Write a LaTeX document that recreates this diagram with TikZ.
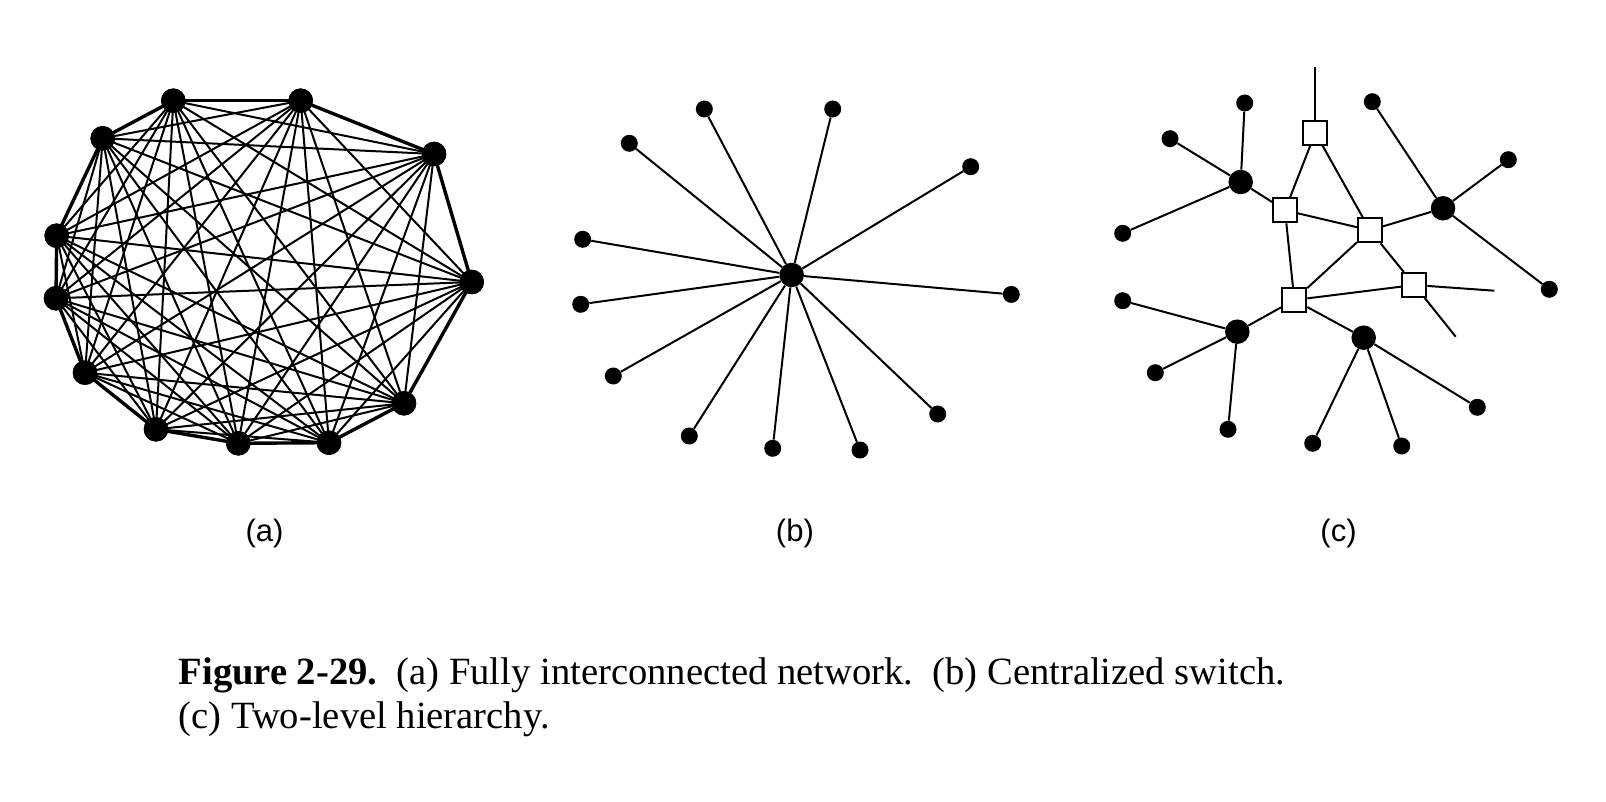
\documentclass[tikz,border=0pt]{standalone}
\usepackage{fontspec}
\setmainfont{Liberation Serif}
\setsansfont{Liberation Sans}
\begin{document}
\begin{tikzpicture}[x=1pt,y=-1pt,
  bigdot/.style={circle,fill=black,inner sep=0pt,minimum size=24.5pt},
  smalldot/.style={circle,fill=black,inner sep=0pt,minimum size=17pt},
  switchbox/.style={rectangle,draw=black,fill=white,line width=2pt,inner sep=0pt,minimum size=24pt},
  wire/.style={line width=2pt},
  rim/.style={line width=3.4pt},
  sublabel/.style={font=\sffamily\fontsize{31}{37}\selectfont,anchor=base,inner sep=0pt},
  captext/.style={font=\rmfamily\fontsize{38.6}{44}\selectfont,anchor=base west,inner sep=0pt}]
\useasboundingbox (0,0) rectangle (1606,802);
% ---------- (a) fully interconnected ----------
\foreach \n/\x/\y in {1/173.3/100.7,2/300.7/100.7,3/434/154,4/471.7/282,5/404/403.3,6/329/442.7,
  7/238.3/443.3,8/156/429.3,9/85/372.7,10/56/298.3,11/56.7/235.7,12/102.7/138.3}
  \node[bigdot] (a\n) at (\x,\y) {};
\begin{scope}[on background layer/.try]
\foreach \i in {1,...,11}{
  \pgfmathtruncatemacro{\s}{\i+1}
  \foreach \j in {\s,...,12}{
    \draw[wire] (a\i.center) -- (a\j.center);
  }
}
\foreach \i/\j in {1/2,2/3,3/4,4/5,5/6,6/7,7/8,8/9,9/10,10/11,11/12,12/1}
  \draw[rim] (a\i.center) -- (a\j.center);
\end{scope}
\foreach \n in {1,...,12} \node[bigdot] at (a\n) {};
% ---------- (b) centralized switch ----------
\node[bigdot] (bc) at (791.7,275) {};
\foreach \n/\x/\y in {1/704.3/109,2/832.7/109,3/629.3/143.3,4/970.7/166.7,5/582.7/239.3,
  6/580.7/304.3,7/1011.3/294.4,8/613.3/376,9/689.3/436,10/772.7/448.3,11/860/450,12/937.7/414}{
  \node[smalldot] (b\n) at (\x,\y) {};
  \draw[wire] (bc) -- (b\n);
}
% ---------- (c) two-level hierarchy ----------
\node[switchbox] (s1) at (1315.3,132.7) {};
\node[switchbox] (s2) at (1285,210.3) {};
\node[switchbox] (s3) at (1370,230.3) {};
\node[switchbox] (s4) at (1294.3,300) {};
\node[switchbox] (s5) at (1414.3,285) {};
\coordinate (t1) at (1315.3,67.3);
\coordinate (t2) at (1494.3,290.7);
\coordinate (t3) at (1455.7,336.7);
\node[bigdot] (p1) at (1240.7,182) {};
\node[bigdot] (p2) at (1443,208.3) {};
\node[bigdot] (p3) at (1237.3,331.7) {};
\node[bigdot] (p4) at (1363.7,337.7) {};
\draw[wire] (s1) -- (t1);
\draw[wire] (s5) -- (t2);
\draw[wire] (s5) -- (t3);
\draw[wire] (s1) -- (s2);
\draw[wire] (s1) -- (s3);
\draw[wire] (s2) -- (s3);
\draw[wire] (s2) -- (s4);
\draw[wire] (s3) -- (s4);
\draw[wire] (s3) -- (s5);
\draw[wire] (s4) -- (s5);
\draw[wire] (p1) -- (s2);
\draw[wire] (p2) -- (s3);
\draw[wire] (p3) -- (s4);
\draw[wire] (p4) -- (s4);
\foreach \p/\n/\x/\y in {p1/1/1244.7/103,p1/2/1170/138.7,p1/3/1122.7/233.3,
  p2/4/1372.3/101.7,p2/5/1508.3/159.7,p2/6/1549.3/289.3,
  p3/7/1122.7/300.7,p3/8/1155.3/372.7,p3/9/1228/429.3,
  p4/10/1312.7/443.3,p4/11/1401.7/446,p4/12/1477.3/407.3}{
  \node[smalldot] (c\n) at (\x,\y) {};
  \draw[wire] (\p) -- (c\n);
}
% ---------- labels ----------
\node[sublabel] (la) at (264.6,541.5) {(a)};
\node[sublabel] (lb) at (794.9,541.5) {(b)};
\node[sublabel] (lc) at (1338.5,541.5) {(c)};
\node[captext] (cap1) at (178.5,684.3) {\textbf{Figure 2-29.}\ \ (a) Fully interconnected network.\ \ (b) Centralized switch.};
\node[captext] (cap2) at (178.5,728.3) {(c) Two-level hierarchy.};
\end{tikzpicture}
\end{document}
